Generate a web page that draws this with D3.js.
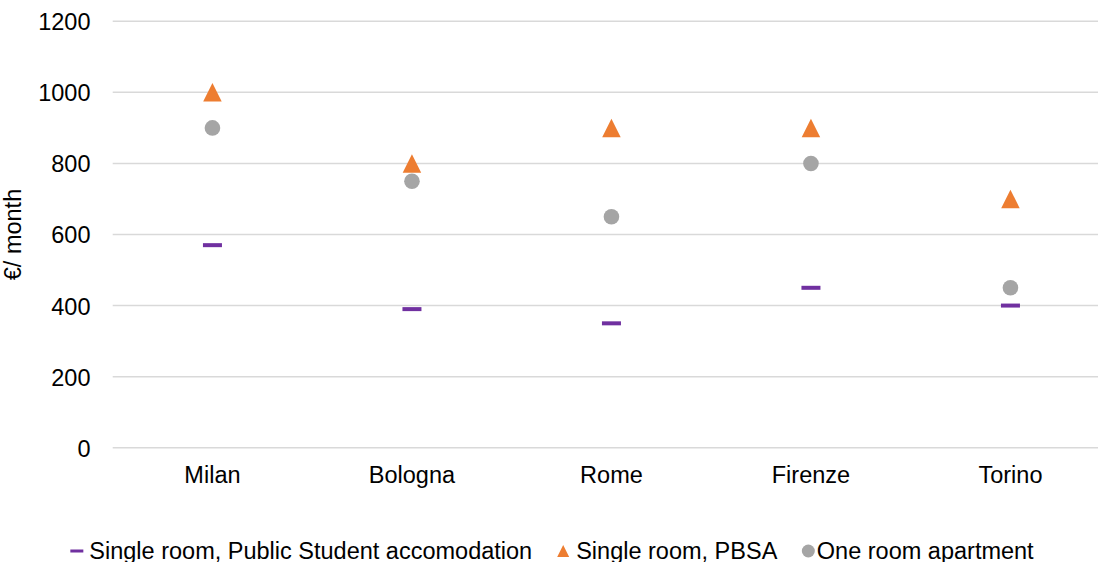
<!DOCTYPE html>
<html>
<head>
<meta charset="utf-8">
<script src="https://cdn.jsdelivr.net/npm/d3@7"></script>
<style>
  html, body { margin: 0; padding: 0; background: #fff; }
  svg { display: block; font-family: "Liberation Sans", Arial, sans-serif; }
</style>
</head>
<body>
<svg id="chart" width="1098" height="562"></svg>
<script>
// Monthly rent by city (€/month)
const cities = ["Milan", "Bologna", "Rome", "Firenze", "Torino"];
const publicStudent = [570, 390, 350, 450, 400];
const pbsa = [1000, 800, 900, 900, 700];
const oneRoomApt = [900, 750, 650, 800, 450];
const yTicks = [0, 200, 400, 600, 800, 1000, 1200];

const seriesNames = ["Single room, Public Student accomodation", "Single room, PBSA", "One room apartment"];
const colors = { dash: "#7030A0", tri: "#ED7D31", dot: "#A5A5A5" };

const FONT = 23.5;
const svg = d3.select("#chart");
const W = 1098, H = 562;

const x = d3.scaleBand().domain(cities).range([112.7, 1110.2]).paddingInner(0).paddingOuter(0);
const y = d3.scaleLinear().domain([0, 1200]).range([447.7, 21.3]);

// Horizontal gridlines
svg.append("g")
  .selectAll("line")
  .data(yTicks)
  .join("line")
  .attr("x1", x.range()[0])
  .attr("x2", x.range()[1])
  .attr("y1", d => y(d))
  .attr("y2", d => y(d))
  .attr("stroke", "#D9D9D9")
  .attr("stroke-width", 1.5);

// Y axis labels
const yAxis = d3.axisLeft(y).tickValues(yTicks).tickFormat(d3.format("d")).tickSize(0).tickPadding(0);
const gy = svg.append("g").attr("transform", "translate(90.5,0)").call(yAxis);
gy.select(".domain").remove();
gy.selectAll("text").attr("font-size", FONT).attr("fill", "#000").attr("font-family", "Liberation Sans, Arial, sans-serif").attr("dy", "0.36em");

// X axis labels
const xAxis = d3.axisBottom(x).tickSize(0).tickPadding(0);
const gx = svg.append("g").attr("transform", "translate(0,0)").call(xAxis);
gx.select(".domain").remove();
gx.selectAll("text").attr("font-size", FONT).attr("fill", "#000").attr("font-family", "Liberation Sans, Arial, sans-serif").attr("y", 483).attr("dy", 0);

// Y axis title
svg.append("text")
  .attr("transform", `translate(21,${(y(0) + y(1200)) / 2}) rotate(-90)`)
  .attr("text-anchor", "middle")
  .attr("font-size", FONT)
  .attr("fill", "#000")
  .text("€/ month");

const cx = c => x(c) + x.bandwidth() / 2;
const plot = svg.append("g");

// Public student accommodation: short dash
plot.selectAll("rect.dash")
  .data(cities.map((c, i) => ({ c, v: publicStudent[i] })))
  .join("rect")
  .attr("class", "dash")
  .attr("x", d => cx(d.c) - 9.5)
  .attr("y", d => y(d.v) - 2)
  .attr("width", 19)
  .attr("height", 4)
  .attr("fill", colors.dash);

// One room apartment: circle
plot.selectAll("circle.dot")
  .data(cities.map((c, i) => ({ c, v: oneRoomApt[i] })))
  .join("circle")
  .attr("class", "dot")
  .attr("cx", d => cx(d.c))
  .attr("cy", d => y(d.v))
  .attr("r", 7.8)
  .attr("fill", colors.dot);

// PBSA: triangle
const triPath = (s) => `M0,${-s / 2}L${s / 2},${s / 2}L${-s / 2},${s / 2}Z`;
plot.selectAll("path.tri")
  .data(cities.map((c, i) => ({ c, v: pbsa[i] })))
  .join("path")
  .attr("class", "tri")
  .attr("transform", d => `translate(${cx(d.c)},${y(d.v)})`)
  .attr("d", triPath(18.5))
  .attr("fill", colors.tri);

// Legend: marker, then label; items centred under the plot
const legend = svg.append("g").attr("transform", "translate(0,551)");
const items = legend.selectAll("g.item").data(seriesNames).join("g").attr("class", "item");
items.append("text")
  .attr("font-size", FONT)
  .attr("fill", "#000")
  .attr("y", 7.8)
  .text(d => d);

const markerToText = [12.5, 13, 8.5];
const textToNextMarker = 31;
const markerHalf = [6.5, 6, 6.5];
const widths = [];
items.each(function () { widths.push(this.querySelector("text").getComputedTextLength()); });
let total = 0;
widths.forEach((w, i) => { total += markerHalf[i] + markerToText[i] + w; if (i < 2) total += textToNextMarker - markerHalf[i + 1]; });
let cursor = (W - total) / 2 + 3;
items.each(function (d, i) {
  const g = d3.select(this);
  const mx = cursor + markerHalf[i];
  if (i === 0) {
    g.append("rect").attr("x", mx - 6.5).attr("y", -1.5).attr("width", 13).attr("height", 3).attr("fill", colors.dash);
  } else if (i === 1) {
    g.append("path").attr("transform", `translate(${mx},0)`).attr("d", triPath(12)).attr("fill", colors.tri);
  } else {
    g.append("circle").attr("cx", mx).attr("cy", 0).attr("r", 6.5).attr("fill", colors.dot);
  }
  const tx = mx + markerToText[i];
  g.select("text").attr("x", tx);
  cursor = tx + widths[i] + textToNextMarker - (i < 2 ? markerHalf[i + 1] : 0);
});
</script>
</body>
</html>
